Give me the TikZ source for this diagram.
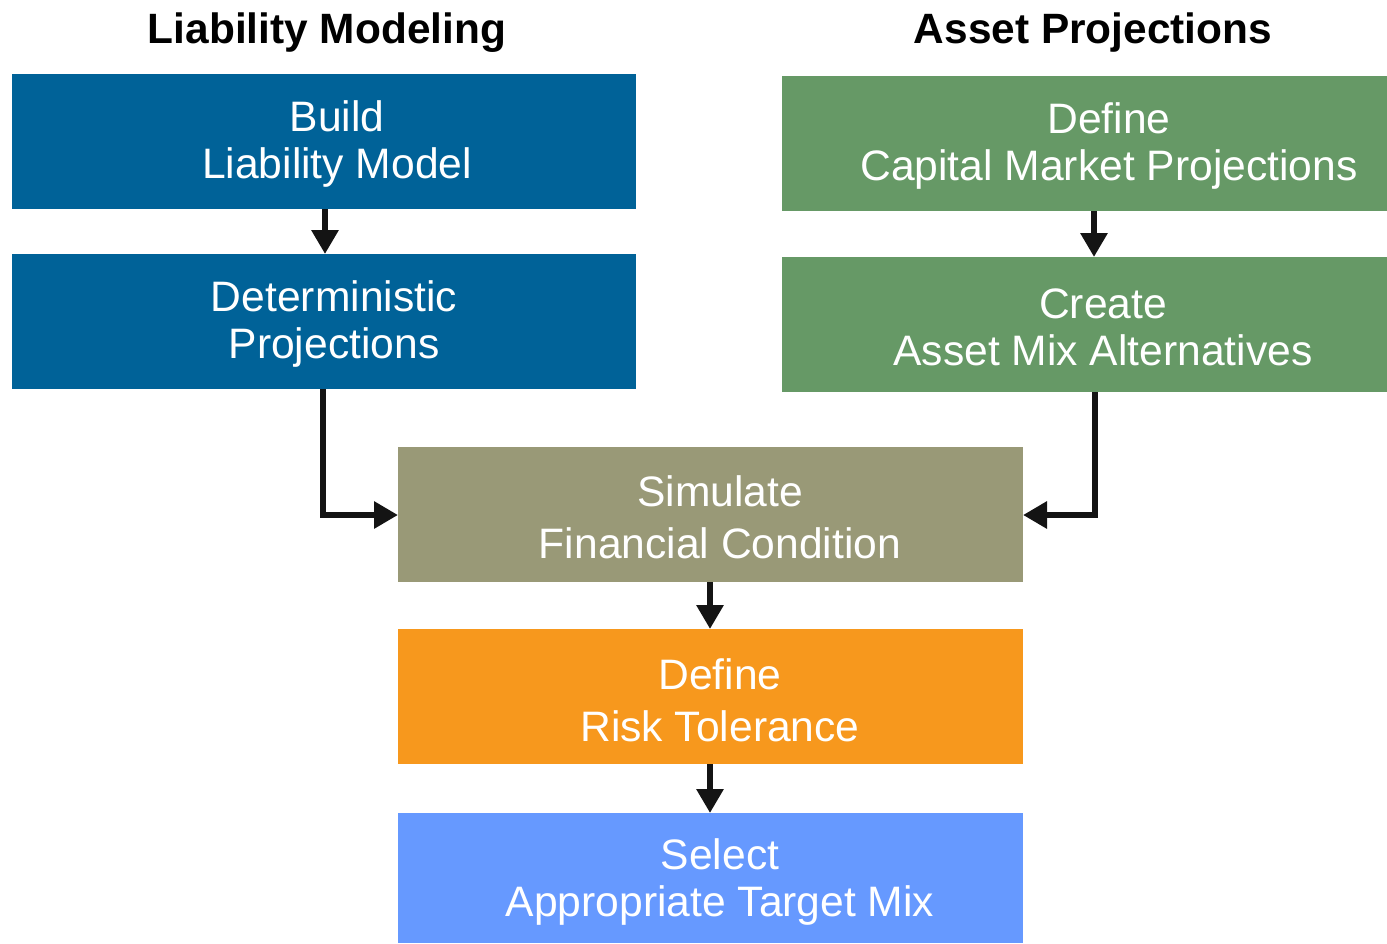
\documentclass[tikz,border=0pt]{standalone}
\usepackage{fontspec}
\setmainfont{Liberation Sans}
\usetikzlibrary{arrows.meta}
\definecolor{cblue}{HTML}{006298}
\definecolor{cgreen}{HTML}{669966}
\definecolor{colive}{HTML}{999977}
\definecolor{corange}{HTML}{F7981D}
\definecolor{clight}{HTML}{6699FF}
\definecolor{carrow}{HTML}{141414}
\begin{document}
\begin{tikzpicture}[x=1pt,y=-1pt,
  lbl/.style={text=white,align=center,font=\fontsize{42.6}{47}\selectfont,inner sep=0pt},
  wide/.style={font=\fontsize{42.6}{52}\selectfont},
  ttl/.style={font=\fontsize{42.4}{47}\selectfont\bfseries,inner sep=0pt,anchor=base},
  arr/.style={draw=carrow,line width=6.5pt,-{Triangle[length=24pt,width=26pt]}}]
\useasboundingbox (0,0) rectangle (1387,943);
% titles
\node[ttl] (t1) at (327,43) {Liability Modeling};
\node[ttl] (t2) at (1093,43) {Asset Projections};
% boxes
\fill[cblue] (12,74) rectangle (636,209);
\coordinate (b1n) at (324,74); \coordinate (b1s) at (325,209);
\node[lbl] (b1) at (337,144) {Build\\Liability Model};
\fill[cblue] (12,254) rectangle (636,389);
\coordinate (b2n) at (325,254); \coordinate (b2s) at (323,389);
\node[lbl] (b2) at (334,324) {Deterministic\\Projections};
\fill[cgreen] (782,76) rectangle (1387,211);
\coordinate (g1s) at (1094,211);
\node[lbl] (g1) at (1109,146) {Define\\Capital Market Projections};
\fill[cgreen] (782,257) rectangle (1387,392);
\coordinate (g2n) at (1094,257); \coordinate (g2s) at (1095,392);
\node[lbl] (g2) at (1103,327) {Create\\Asset Mix Alternatives};
\fill[colive] (398,447) rectangle (1023,582);
\coordinate (s1w) at (398,515); \coordinate (s1e) at (1023,515);
\coordinate (s1s) at (710,582);
\node[lbl,wide] (s1) at (720,517) {Simulate\\Financial Condition};
\fill[corange] (398,629) rectangle (1023,764);
\coordinate (r1n) at (710,629); \coordinate (r1s) at (710,764);
\node[lbl,wide] (r1) at (720,700) {Define\\Risk Tolerance};
\fill[clight] (398,813) rectangle (1023,943);
\coordinate (x1n) at (710,813);
\node[lbl] (x1) at (720,882) {Select\\Appropriate Target Mix};
% connectors
\draw[arr] (b1s) -- (b2n);
\draw[arr] (g1s) -- (g2n);
\draw[arr] (b2s) |- (s1w);
\draw[arr] (g2s) |- (s1e);
\draw[arr] (s1s) -- (r1n);
\draw[arr] (r1s) -- (x1n);
\end{tikzpicture}
\end{document}
